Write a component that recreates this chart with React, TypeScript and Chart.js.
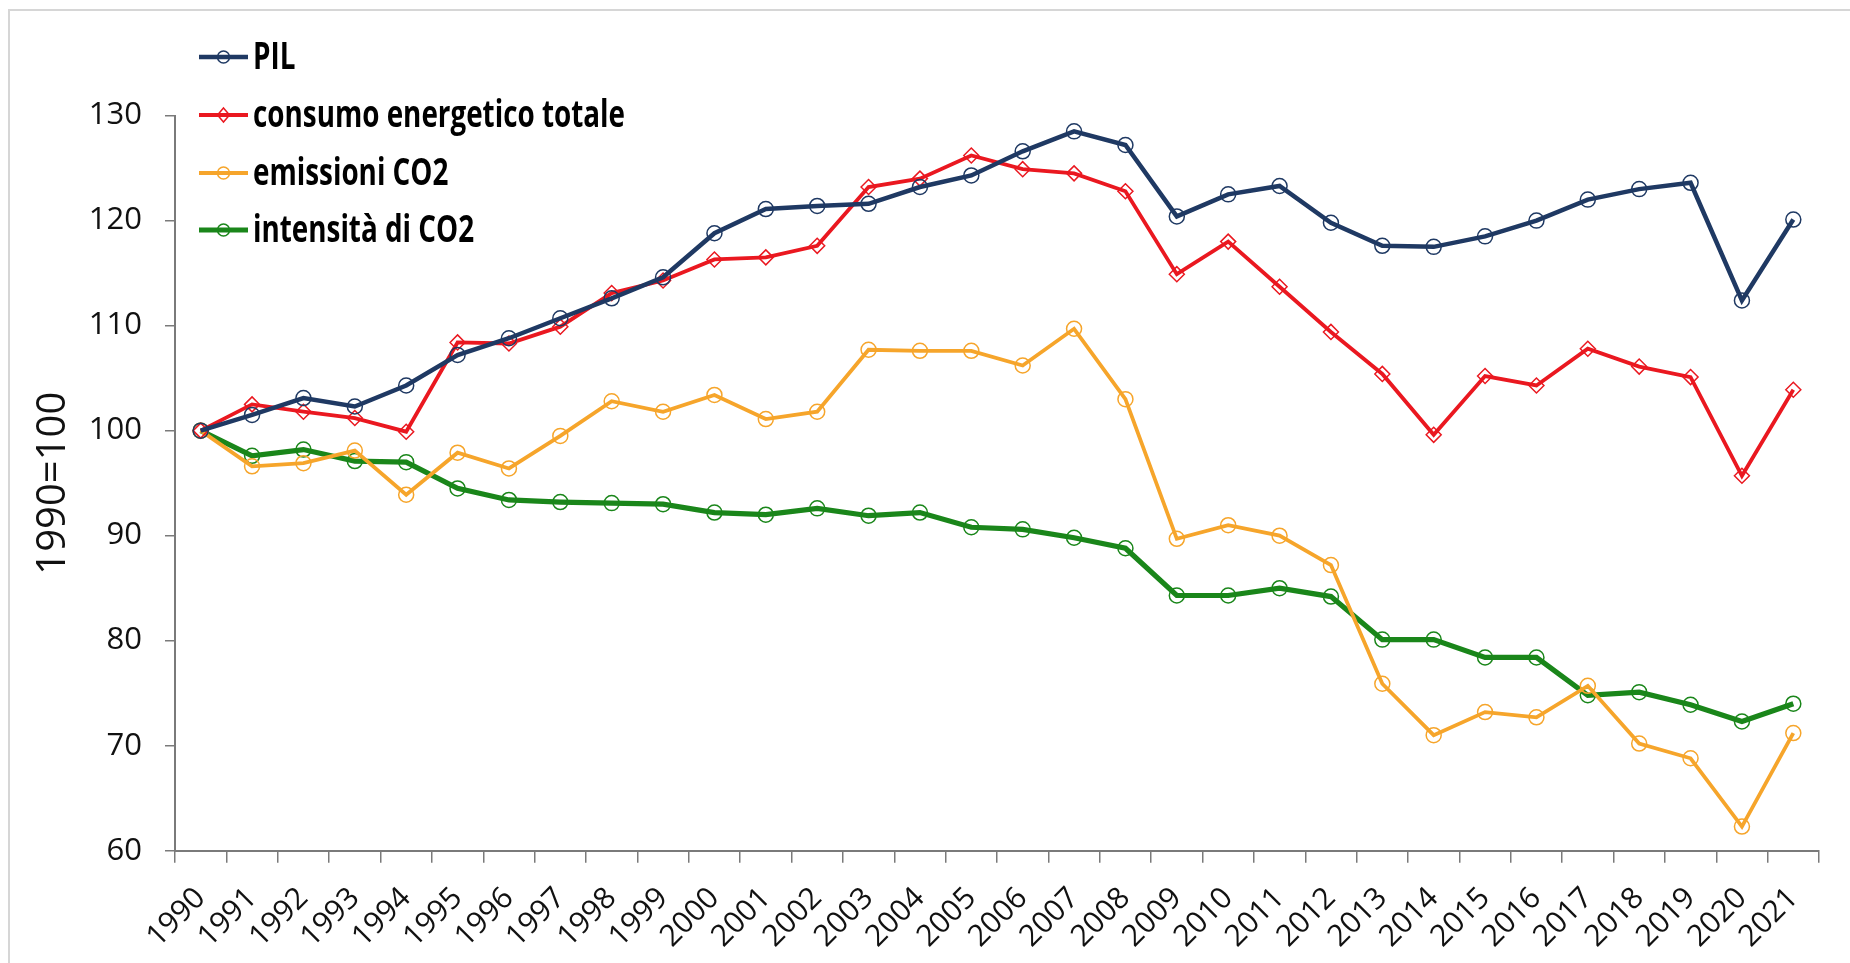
import React, { useEffect, useRef } from "react";
import { Chart, registerables } from "chart.js";

Chart.register(...registerables);

// ---- Data ----
const years = [
  "1990", "1991", "1992", "1993", "1994", "1995", "1996", "1997", "1998", "1999",
  "2000", "2001", "2002", "2003", "2004", "2005", "2006", "2007", "2008", "2009",
  "2010", "2011", "2012", "2013", "2014", "2015", "2016", "2017", "2018", "2019",
  "2020", "2021",
];

const pil = [
  100, 101.5, 103.1, 102.3, 104.3, 107.2, 108.8, 110.7, 112.6, 114.6,
  118.8, 121.1, 121.4, 121.6, 123.2, 124.3, 126.6, 128.5, 127.2, 120.4,
  122.5, 123.3, 119.8, 117.6, 117.5, 118.5, 120.0, 122.0, 123.0, 123.6,
  112.4, 120.1,
];

const consumo = [
  100, 102.5, 101.8, 101.2, 99.9, 108.4, 108.3, 109.9, 113.1, 114.3,
  116.3, 116.5, 117.6, 123.2, 124.0, 126.2, 124.9, 124.5, 122.8, 114.9,
  118.0, 113.7, 109.4, 105.4, 99.6, 105.2, 104.3, 107.8, 106.1, 105.1,
  95.7, 103.9,
];

const emissioni = [
  100, 96.6, 96.9, 98.1, 93.9, 97.9, 96.4, 99.5, 102.8, 101.8,
  103.4, 101.1, 101.8, 107.7, 107.6, 107.6, 106.2, 109.7, 103.0, 89.7,
  91.0, 90.0, 87.2, 75.9, 71.0, 73.2, 72.7, 75.7, 70.2, 68.8,
  62.3, 71.2,
];

const intensita = [
  100, 97.6, 98.2, 97.1, 97.0, 94.5, 93.4, 93.2, 93.1, 93.0,
  92.2, 92.0, 92.6, 91.9, 92.2, 90.8, 90.6, 89.8, 88.8, 84.3,
  84.3, 85.0, 84.2, 80.1, 80.1, 78.4, 78.4, 74.8, 75.1, 73.9,
  72.3, 74.0,
];

const seriesNames = ["PIL", "consumo energetico totale", "emissioni CO2", "intensità di CO2"];
const yAxisTitle = "1990=100";

// ---- Styles ----
const NARROW = "'Liberation Sans Narrow', 'Open Sans', sans-serif";
const COLORS = ["#1F3963", "#EA1820", "#F6A52B", "#1A861A"];
const WIDTHS = [4.5, 3.8, 3.8, 5.2];
const POINT_STYLES = ["circle", "rectRot", "circle", "circle"];

const LEGEND_ROWS = [57, 115, 173, 230];
const LEGEND_LINE_X0 = 199;
const LEGEND_LINE_X1 = 248;
const LEGEND_TEXT_X = 253;
const LEGEND_REF_WIDTH = 372;

const backgroundPlugin = {
  id: "bgFrame",
  beforeDraw(chart: any) {
    const { ctx, width, height } = chart;
    ctx.save();
    ctx.fillStyle = "#ffffff";
    ctx.fillRect(0, 0, width, height);
    ctx.strokeStyle = "#d6d6d6";
    ctx.lineWidth = 2;
    ctx.beginPath();
    ctx.moveTo(9, height);
    ctx.lineTo(9, 10);
    ctx.lineTo(width, 10);
    ctx.stroke();
    ctx.restore();
  },
};

const legendPlugin = {
  id: "customLegend",
  afterDraw(chart: any) {
    const ctx = chart.ctx;
    ctx.save();
    ctx.font = `bold 37px ${NARROW}`;
    const sx = LEGEND_REF_WIDTH / ctx.measureText(seriesNames[1]).width;
    chart.data.datasets.forEach((ds: any, i: number) => {
      const y = LEGEND_ROWS[i];
      ctx.strokeStyle = ds.borderColor;
      ctx.lineWidth = ds.borderWidth;
      ctx.beginPath();
      ctx.moveTo(LEGEND_LINE_X0, y);
      ctx.lineTo(LEGEND_LINE_X1, y);
      ctx.stroke();
      const cx = (LEGEND_LINE_X0 + LEGEND_LINE_X1) / 2;
      ctx.lineWidth = 1.5;
      ctx.beginPath();
      if (ds.pointStyle === "rectRot") {
        ctx.moveTo(cx, y - 7);
        ctx.lineTo(cx + 6, y);
        ctx.lineTo(cx, y + 7);
        ctx.lineTo(cx - 6, y);
        ctx.closePath();
      } else {
        ctx.arc(cx, y, 6, 0, Math.PI * 2);
      }
      ctx.stroke();
      ctx.save();
      ctx.translate(LEGEND_TEXT_X, y + 1);
      ctx.scale(sx, 1);
      ctx.fillStyle = "#000000";
      ctx.textBaseline = "middle";
      ctx.textAlign = "left";
      ctx.fillText(ds.label, 0, 0);
      ctx.restore();
    });
    ctx.restore();
  },
};

export default function App() {
  const ref = useRef<HTMLCanvasElement>(null);

  useEffect(() => {
    const canvas = ref.current;
    if (!canvas) return;
    const values = [pil, consumo, emissioni, intensita];
    const chart = new Chart(canvas, {
      type: "line",
      data: {
        labels: years,
        datasets: values.map((v, i) => ({
          label: seriesNames[i],
          data: v,
          borderColor: COLORS[i],
          backgroundColor: "rgba(0,0,0,0)",
          borderWidth: WIDTHS[i],
          pointStyle: POINT_STYLES[i] as any,
          pointRadius: 7.5,
          pointBorderWidth: 1.5,
          pointBorderColor: COLORS[i],
          pointBackgroundColor: "rgba(255,255,255,0)",
          tension: 0,
          fill: false,
        })),
      },
      options: {
        animation: false,
        responsive: false,
        devicePixelRatio: 1,
        layout: { padding: { top: 115.6, right: 31, left: 0, bottom: 0 } },
        plugins: {
          legend: { display: false },
          tooltip: { enabled: false },
          title: { display: false },
        },
        scales: {
          x: {
            type: "category",
            offset: true,
            grid: {
              offset: true,
              drawOnChartArea: false,
              drawTicks: true,
              tickLength: 12,
              color: "#7a7a7a",
              lineWidth: 1.5,
            },
            border: { display: true, color: "#7a7a7a", width: 2 },
            ticks: {
              autoSkip: false,
              maxRotation: 45,
              minRotation: 45,
              padding: 18,
              color: "#111111",
              font: { family: NARROW, size: 30 },
            },
            afterFit: (s: any) => {
              s.height = 963 - 850.7;
            },
          },
          y: {
            min: 60,
            max: 130,
            ticks: {
              stepSize: 10,
              padding: 23,
              color: "#111111",
              font: { family: NARROW, size: 31 },
            },
            grid: {
              drawOnChartArea: false,
              drawTicks: true,
              tickLength: 10,
              color: "#7a7a7a",
              lineWidth: 1.5,
            },
            border: { display: true, color: "#7a7a7a", width: 2 },
            title: {
              display: true,
              text: yAxisTitle,
              color: "#111111",
              font: { family: "'Open Sans', sans-serif", size: 40 },
              padding: { top: 30, bottom: 0 },
            },
            afterFit: (s: any) => {
              s.width = 175;
            },
          },
        },
      },
      plugins: [backgroundPlugin, legendPlugin],
    });
    return () => chart.destroy();
  }, []);

  return (
    <div style={{ position: "absolute", left: 0, top: 0, width: 1850, height: 963 }}>
      <canvas ref={ref} width={1850} height={963} style={{ display: "block", width: 1850, height: 963 }} />
    </div>
  );
}
